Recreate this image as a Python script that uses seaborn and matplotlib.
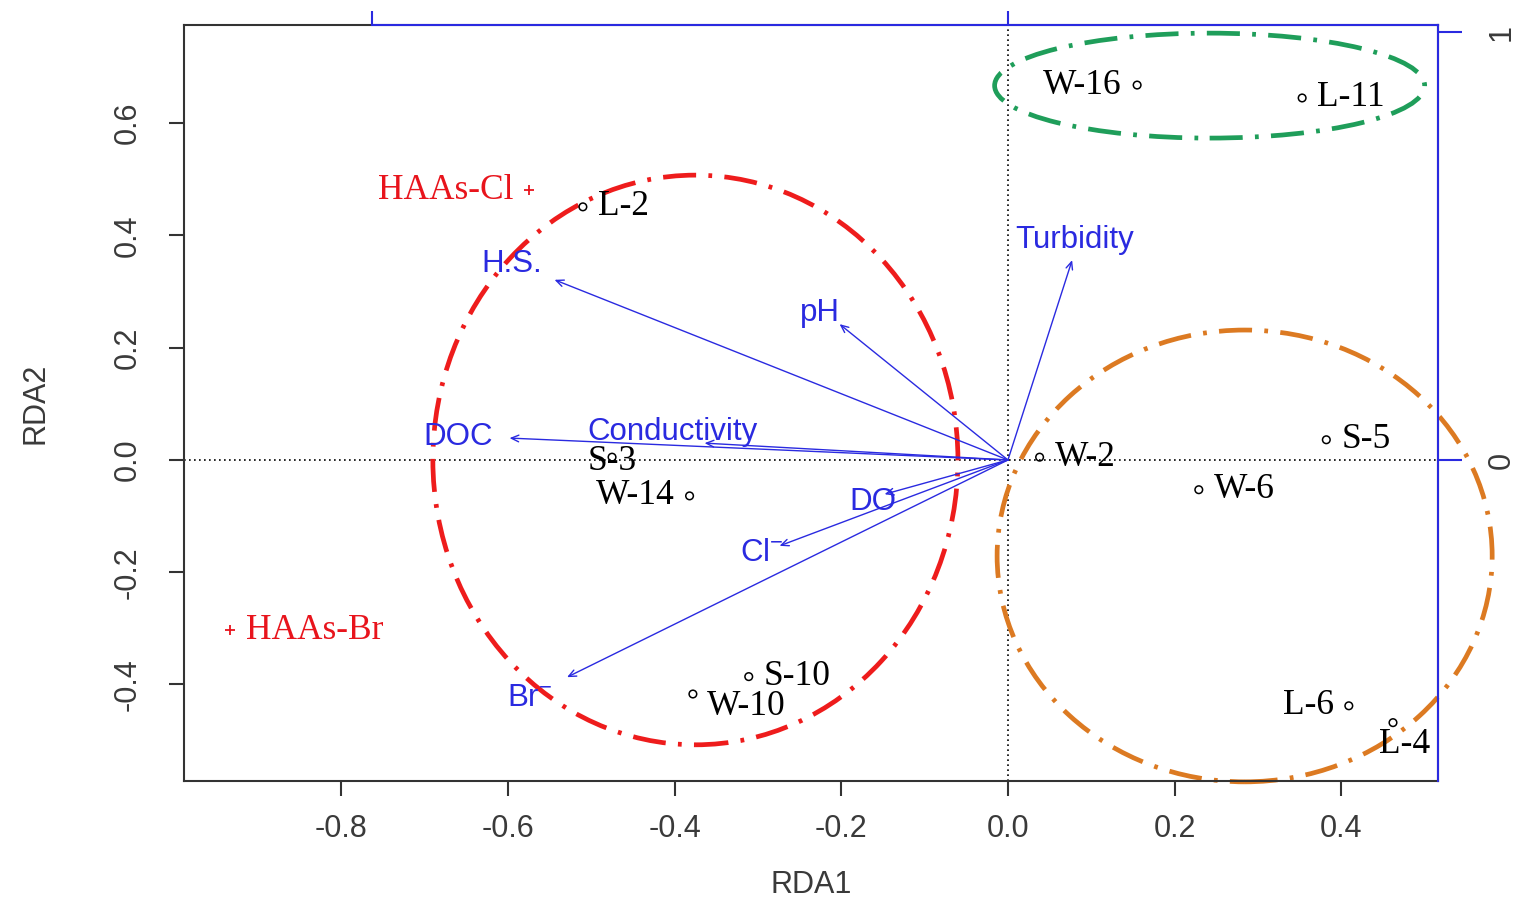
import numpy as np
import pandas as pd
import matplotlib
matplotlib.use("Agg")
import matplotlib.pyplot as plt
from matplotlib.patches import Ellipse
import seaborn as sns

# ---------------- data ----------------
sample_names = ['W-16', 'L-11', 'L-2', 'S-3', 'W-14', 'S-10', 'W-10', 'W-2', 'S-5', 'W-6', 'L-6', 'L-4']
sample_x = [0.155, 0.353, -0.510, -0.475, -0.382, -0.311, -0.378, 0.038, 0.382, 0.229, 0.409, 0.462]
sample_y = [0.668, 0.645, 0.451, 0.005, -0.064, -0.386, -0.417, 0.005, 0.036, -0.053, -0.438, -0.468]
sample_label_side = ['left', 'right', 'right', 'center', 'left', 'right', 'belowright',
                     'right', 'right', 'right', 'left', 'below']

species_names = ['HAAs-Cl', 'HAAs-Br']
species_x = [-0.575, -0.933]
species_y = [0.481, -0.303]
species_label_side = ['left', 'right']

env_names = ['Turbidity', 'pH', 'H.S.', 'DOC', 'Conductivity', 'DO', 'Cl$^{-}$', 'Br$^{-}$']
env_x = [0.077, -0.202, -0.544, -0.598, -0.364, -0.148, -0.274, -0.529]
env_y = [0.356, 0.242, 0.321, 0.039, 0.030, -0.061, -0.153, -0.387]
env_label_x = [0.080, -0.226, -0.595, -0.660, -0.403, -0.162, -0.295, -0.574]
env_label_y = [0.392, 0.262, 0.349, 0.041, 0.050, -0.075, -0.166, -0.424]

group_cx = [-0.375, 0.242, 0.284]
group_cy = [0.000, 0.667, -0.171]
group_w = [0.630, 0.516, 0.594]
group_h = [1.015, 0.187, 0.805]
group_colors = ['#ee1c1c', '#1f9e5a', '#dc7a22']

x_ticks = [-0.8, -0.6, -0.4, -0.2, 0.0, 0.2, 0.4]
y_ticks = [-0.4, -0.2, 0.0, 0.2, 0.4, 0.6]

# ---------------- style ----------------
sns.set_theme(style='white')
plt.rcParams['font.family'] = ['Liberation Sans', 'DejaVu Sans']
plt.rcParams['mathtext.fontset'] = 'custom'
plt.rcParams['mathtext.rm'] = 'Liberation Sans'
plt.rcParams['mathtext.it'] = 'Liberation Sans'

W, H = 1523, 905
fig = plt.figure(figsize=(W / 100, H / 100), dpi=100)
L, R, T, B = 184, 1438, 25, 781
ax = fig.add_axes([L / W, (H - B) / H, (R - L) / W, (B - T) / H])
ax.set_xlim(-0.9886, 0.516)
ax.set_ylim(-0.572, 0.775)

dark = '#333333'
blue = '#2a2ae0'
red = '#e8141c'

for s in ax.spines.values():
    s.set_color(dark)
    s.set_linewidth(1.5)

ax.axhline(0, color='black', ls=(0, (1, 2)), lw=1.2, zorder=1)
ax.axvline(0, color='black', ls=(0, (1, 2)), lw=1.2, zorder=1)

# ellipses
for cx, cy, w, h, c in zip(group_cx, group_cy, group_w, group_h, group_colors):
    e = Ellipse((cx, cy), w, h, fill=False, edgecolor=c, lw=3.4,
                ls=(0, (7, 2.6, 0.8, 2.6)), clip_on=False, zorder=2)
    ax.add_patch(e)

# arrows
for tx, ty in zip(env_x, env_y):
    ax.annotate('', xy=(tx, ty), xytext=(0, 0),
                arrowprops=dict(arrowstyle='->,head_length=0.45,head_width=0.2',
                                color=blue, lw=1.0, shrinkA=0, shrinkB=0), zorder=3)
for name, lx, ly in zip(env_names, env_label_x, env_label_y):
    ax.text(lx, ly, name, color=blue, fontsize=22.5, ha='center', va='center', zorder=4)

# sample points
df = pd.DataFrame({'x': sample_x, 'y': sample_y, 'name': sample_names})
sns.scatterplot(data=df, x='x', y='y', ax=ax, marker='o', s=30,
                facecolor='none', edgecolor='black', linewidth=1.1, zorder=5, legend=False)

offsets = {'left': ((-11, 0), 'right', 'center'),
           'right': ((11, 0), 'left', 'center'),
           'center': ((0, -3), 'center', 'center'),
           'belowright': ((10, -9), 'left', 'center'),
           'below': ((8, -16), 'center', 'center')}
serif = ['Liberation Serif', 'DejaVu Serif']
for n, x, y, side in zip(sample_names, sample_x, sample_y, sample_label_side):
    off, ha, va = offsets[side]
    ax.annotate(n, (x, y), xytext=off, textcoords='offset points', ha=ha, va=va,
                fontsize=25.5, family=serif, color='black', zorder=6)

# species points
sp = pd.DataFrame({'x': species_x, 'y': species_y})
sns.scatterplot(data=sp, x='x', y='y', ax=ax, marker='+', s=45, color=red,
                linewidth=1.3, zorder=5, legend=False)
for n, x, y, side in zip(species_names, species_x, species_y, species_label_side):
    off, ha, va = offsets[side]
    ax.annotate(n, (x, y), xytext=off, textcoords='offset points', ha=ha, va=va,
                fontsize=25.5, family=serif, color=red, zorder=6)

# main axes ticks
ax.set_xticks(x_ticks)
ax.set_xticklabels([f'{v:.1f}' for v in x_ticks])
ax.set_yticks(y_ticks)
ax.set_yticklabels([f'{v:.1f}' for v in y_ticks], rotation=90, va='center')
ax.tick_params(axis='both', direction='out', length=11, width=1.5, color=dark,
               labelsize=22, labelcolor='#3a3a3a')
ax.tick_params(axis='x', pad=13, bottom=True)
ax.tick_params(axis='y', pad=19, left=True)
ax.set_xlabel('RDA1', fontsize=22, color='#3a3a3a')
ax.set_ylabel('RDA2', fontsize=22, color='#3a3a3a')
ax.xaxis.set_label_coords(0.5, (B - 885) / (B - T))
ax.xaxis.label.set_va('center')
ax.yaxis.set_label_coords((35 - L) / (R - L), 0.5)
ax.yaxis.label.set_va('center')

# secondary (species-scale) axes in blue
axt = ax.twiny()
axt.set_xlim(-1.2956, 0.676)
for k in ['left', 'right', 'bottom']:
    axt.spines[k].set_visible(False)
axt.spines['top'].set_color(blue)
axt.spines['top'].set_linewidth(1.5)
axt.spines['top'].set_bounds(-1, 0.676)
axt.set_xticks([-1, 0])
axt.tick_params(axis='x', direction='out', length=10, width=1.5, color=blue,
                labeltop=False, top=True)
axt.grid(False)

axr = ax.twinx()
axr.set_ylim(-0.75, 1.0164)
for k in ['left', 'top', 'bottom']:
    axr.spines[k].set_visible(False)
axr.spines['right'].set_color(blue)
axr.spines['right'].set_linewidth(1.5)
axr.set_yticks([0, 1])
axr.set_yticklabels(['0', '1'], rotation=90, va='center')
axr.tick_params(axis='y', direction='out', length=17, width=1.5, color=blue,
                labelsize=22, labelcolor='#3a3a3a', pad=18, right=True)
axr.grid(False)
ax.grid(False)

fig.savefig('out.png', dpi=100, facecolor='white')
